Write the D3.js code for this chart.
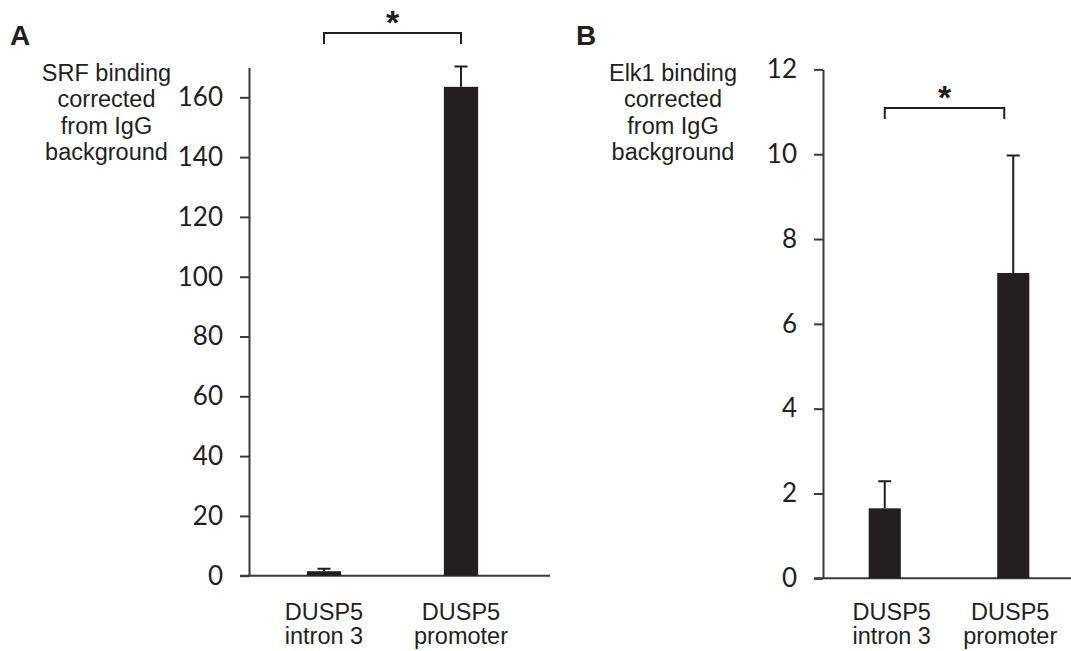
<!DOCTYPE html>
<html>
<head>
<meta charset="utf-8">
<script src="https://cdn.jsdelivr.net/npm/d3@7"></script>
<style>
  body { margin: 0; background: #fff; }
  svg { display: block; }
  .axis path, .axis line { stroke: #3a3a3a; stroke-width: 2; }
  .axis text { font-family: Lato, "Open Sans", sans-serif; font-size: 26px; fill: #231f20; }
  .label { font-family: "Liberation Sans", Arial, sans-serif; font-size: 23.5px; fill: #231f20; }
  .panel { font-family: "Liberation Sans", Arial, sans-serif; font-size: 28px; font-weight: bold; fill: #231f20; }
  .star { font-family: "Liberation Sans", Arial, sans-serif; font-size: 34px; font-weight: bold; fill: #231f20; }
  .bar { fill: #231f20; }
  .err, .bracket { stroke: #231f20; stroke-width: 2; fill: none; }
</style>
</head>
<body>
<svg id="chart" width="1071" height="651"></svg>
<script>
// chart data
const categories = [["DUSP5", "intron 3"], ["DUSP5", "promoter"]];
const srfValues = [1.5, 163.5];
const srfErrors = [0.8, 6.8];
const srfTicks = [0, 20, 40, 60, 80, 100, 120, 140, 160];
const elk1Values = [1.65, 7.2];
const elk1Errors = [0.64, 2.77];
const elk1Ticks = [0, 2, 4, 6, 8, 10, 12];
const srfTitle = ["SRF binding", "corrected", "from IgG", "background"];
const elk1Title = ["Elk1 binding", "corrected", "from IgG", "background"];

const svg = d3.select("#chart");

function drawPanel(opt) {
  const g = svg.append("g");

  // panel letter
  g.append("text").attr("class", "panel").attr("x", opt.letterX).attr("y", 45).text(opt.letter);

  const y = d3.scaleLinear().domain([0, opt.yMax]).range([opt.y0, opt.yTop]);
  const x = d3.scaleBand()
    .domain(d3.range(categories.length))
    .range(opt.xRange)
    .paddingInner(0.75)
    .paddingOuter(0.375);

  // y axis
  g.append("g")
    .attr("class", "axis")
    .attr("transform", translate(opt.axisX, 0))
    .call(d3.axisLeft(y).tickValues(opt.ticks).tickSize(9).tickSizeOuter(0).tickPadding(17).tickFormat(d3.format("d")));

  // x axis baseline
  g.append("line")
    .attr("class", "err")
    .attr("x1", opt.axisX - 9).attr("x2", opt.xEnd)
    .attr("y1", y(0)).attr("y2", y(0))
    .style("stroke", "#3a3a3a");

  // bars
  g.selectAll("rect.bar").data(opt.values).enter().append("rect")
    .attr("class", "bar")
    .attr("x", (d, i) => x(i))
    .attr("width", x.bandwidth())
    .attr("y", d => y(d))
    .attr("height", d => y(0) - y(d));

  // error bars (upper only)
  const cx = i => x(i) + x.bandwidth() / 2;
  g.selectAll("path.err").data(opt.values).enter().append("path")
    .attr("class", "err")
    .attr("d", (d, i) => {
      const top = y(d + opt.errors[i]);
      return "M" + cx(i) + "," + y(d) + "V" + top + "M" + (cx(i) - 6.5) + "," + top + "H" + (cx(i) + 6.5);
    });

  // category labels
  categories.forEach(function(lines, i) {
    const t = g.append("text").attr("class", "label").attr("text-anchor", "middle");
    lines.forEach(function(s, k) {
      t.append("tspan").attr("x", cx(i) + opt.labelShift[i]).attr("y", 620 + k * 24).text(s);
    });
  });

  // y axis title
  const tt = g.append("text").attr("class", "label").attr("text-anchor", "middle");
  opt.title.forEach(function(s, k) {
    tt.append("tspan").attr("x", opt.titleX).attr("y", 81 + k * 26.3).text(s);
  });

  // significance bracket
  const bx0 = cx(0), bx1 = cx(1) - opt.bracketInset;
  g.append("path")
    .attr("class", "bracket")
    .attr("d", "M" + bx0 + "," + (opt.bracketY + 11) + "V" + opt.bracketY + "H" + bx1 + "V" + (opt.bracketY + 11));
  g.append("text")
    .attr("class", "star")
    .attr("text-anchor", "middle")
    .attr("x", (bx0 + bx1) / 2)
    .attr("y", opt.bracketY + 1)
    .text("*");
}

drawPanel({
  letter: "A", letterX: 10,
  values: srfValues, errors: srfErrors, ticks: srfTicks,
  yMax: 170, y0: 575.7, yTop: 67.4,
  axisX: 249, xEnd: 550, xRange: [255.5, 529.5],
  title: srfTitle, titleX: 106.5,
  bracketY: 33, bracketInset: 0,
  labelShift: [0, 0]
});

drawPanel({
  letter: "B", letterX: 576,
  values: elk1Values, errors: elk1Errors, ticks: elk1Ticks,
  yMax: 12, y0: 578.3, yTop: 69.4,
  axisX: 823, xEnd: 1071, xRange: [820.5, 1077.5],
  title: elk1Title, titleX: 673,
  bracketY: 108, bracketInset: 9,
  labelShift: [7, -3]
});

function translate(x, y) {
  return "translate(" + String(x) + "," + String(y) + ")";
}
</script>
</body>
</html>
